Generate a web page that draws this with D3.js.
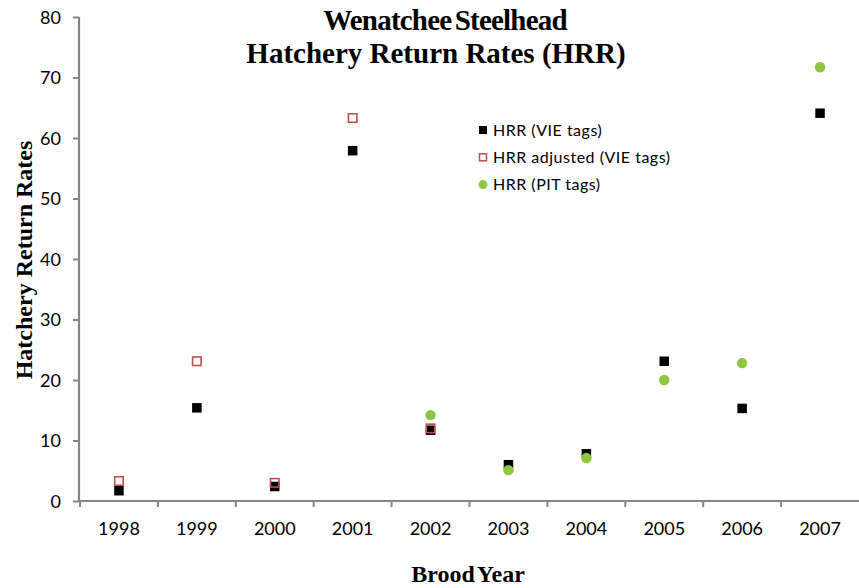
<!DOCTYPE html>
<html><head><meta charset="utf-8">
<script src="https://cdn.jsdelivr.net/npm/d3@7"></script>
<style>body{margin:0;background:#fff}svg{display:block}</style>
</head><body>
<script>
const years = ["1998","1999","2000","2001","2002","2003","2004","2005","2006","2007"];
const hrrVIE = [1.7, 15.4, 2.4, 57.9, 11.7, 6.0, 7.8, 23.1, 15.3, 64.1];
const hrrAdjVIE = [3.3, 23.1, 3.0, 63.3, 12.0, null, null, null, null, null];
const hrrPIT = [null, null, null, null, 14.2, 5.1, 7.1, 20.0, 22.8, 71.7];
const yTicks = [0,10,20,30,40,50,60,70,80];
const seriesNames = ["HRR (VIE tags)", "HRR adjusted (VIE tags)", "HRR (PIT tags)"];
const titleLines = ["Wenatchee Steelhead", "Hatchery Return Rates (HRR)"];

const W = 859, H = 588;
const svg = d3.select("body").append("svg").attr("width", W).attr("height", H);
const x = d3.scaleBand().domain(years).range([80, 859]);
const y = d3.scaleLinear().domain([0, 80]).range([501, 17]);
const axisColor = "#868686";
const tickFont = "Lato, 'Open Sans', sans-serif";

// y axis
const gy = svg.append("g").attr("transform", "translate(79,0)")
  .call(d3.axisLeft(y).tickValues(yTicks).tickSize(6).tickPadding(10).tickFormat(d3.format("d")));
gy.select(".domain").attr("stroke", axisColor).attr("stroke-width", 2.2).attr("d", `M0,${y(80)}V${y(0)}`);
gy.selectAll(".tick line").attr("stroke", axisColor).attr("stroke-width", 2);
gy.selectAll(".tick text").attr("font-family", tickFont).attr("font-size", 18).attr("fill", "#000")
  .attr("x", -18).attr("dy", "0.36em");

// x axis
const gx = svg.append("g").attr("transform", "translate(0,501)")
  .call(d3.axisBottom(x).tickSize(0).tickPadding(20));
gx.select(".domain").attr("stroke", axisColor).attr("stroke-width", 2.2).attr("d", `M79,0H859`);
gx.selectAll(".tick text").attr("font-family", tickFont).attr("font-size", 18).attr("fill", "#000")
  .attr("y", 34).attr("dy", 0);
gx.selectAll(".xt").data(years).enter().append("line").attr("class","xt")
  .attr("x1", d => x(d)).attr("x2", d => x(d)).attr("y1", 0).attr("y2", 6)
  .attr("stroke", axisColor).attr("stroke-width", 2);

// markers
const sq = 9.5;
svg.append("g").selectAll("rect").data(years.map((d,i)=>[d,hrrVIE[i]]).filter(d=>d[1]!=null))
  .enter().append("rect")
  .attr("x", d => x(d[0]) + x.bandwidth()/2 - sq/2).attr("y", d => y(d[1]) - sq/2)
  .attr("width", sq).attr("height", sq).attr("fill", "#000");
const rs = 8.5;
svg.append("g").selectAll("rect").data(years.map((d,i)=>[d,hrrAdjVIE[i]]).filter(d=>d[1]!=null))
  .enter().append("rect")
  .attr("x", d => x(d[0]) + x.bandwidth()/2 - rs/2).attr("y", d => y(d[1]) - rs/2)
  .attr("width", rs).attr("height", rs).attr("fill", "none")
  .attr("stroke", "#c0504d").attr("stroke-width", 1.6);
svg.append("g").selectAll("circle").data(years.map((d,i)=>[d,hrrPIT[i]]).filter(d=>d[1]!=null))
  .enter().append("circle")
  .attr("cx", d => x(d[0]) + x.bandwidth()/2).attr("cy", d => y(d[1]))
  .attr("r", 5.2).attr("fill", "#8dc63f");

// legend
const lg = svg.append("g").attr("transform", "translate(483,130)");
seriesNames.forEach((name, i) => {
  const g = lg.append("g").attr("transform", `translate(0,${i*27.3})`);
  if (i === 0) g.append("rect").attr("x",-4).attr("y",-4).attr("width",8).attr("height",8).attr("fill","#000");
  if (i === 1) g.append("rect").attr("x",-3.5).attr("y",-3.5).attr("width",7).attr("height",7).attr("fill","none").attr("stroke","#c0504d").attr("stroke-width",1.5);
  if (i === 2) g.append("circle").attr("r",4.5).attr("fill","#8dc63f");
  g.append("text").attr("x", 10).attr("y", 5.5).attr("font-family", tickFont).attr("font-size", 16)
    .attr("letter-spacing", 0.5).text(name);
});

// title
const tf = "'Liberation Serif', 'Times New Roman', serif";
svg.append("text").attr("x", 445).attr("y", 30).attr("text-anchor","middle")
  .attr("font-family", tf).attr("font-weight","bold").attr("font-size", 29).attr("letter-spacing", -0.8)
  .attr("word-spacing", -3).text(titleLines[0]);
svg.append("text").attr("x", 436).attr("y", 63).attr("text-anchor","middle")
  .attr("font-family", tf).attr("font-weight","bold").attr("font-size", 29).text(titleLines[1]);

// axis titles
svg.append("text").attr("transform","translate(32,260) rotate(-90)").attr("text-anchor","middle")
  .attr("font-family", tf).attr("font-weight","bold").attr("font-size", 24).text("Hatchery Return Rates");
svg.append("text").attr("x", 468).attr("y", 582).attr("text-anchor","middle")
  .attr("font-family", tf).attr("font-weight","bold").attr("font-size", 24).attr("word-spacing", -3).text("Brood Year");
</script>
</body></html>
